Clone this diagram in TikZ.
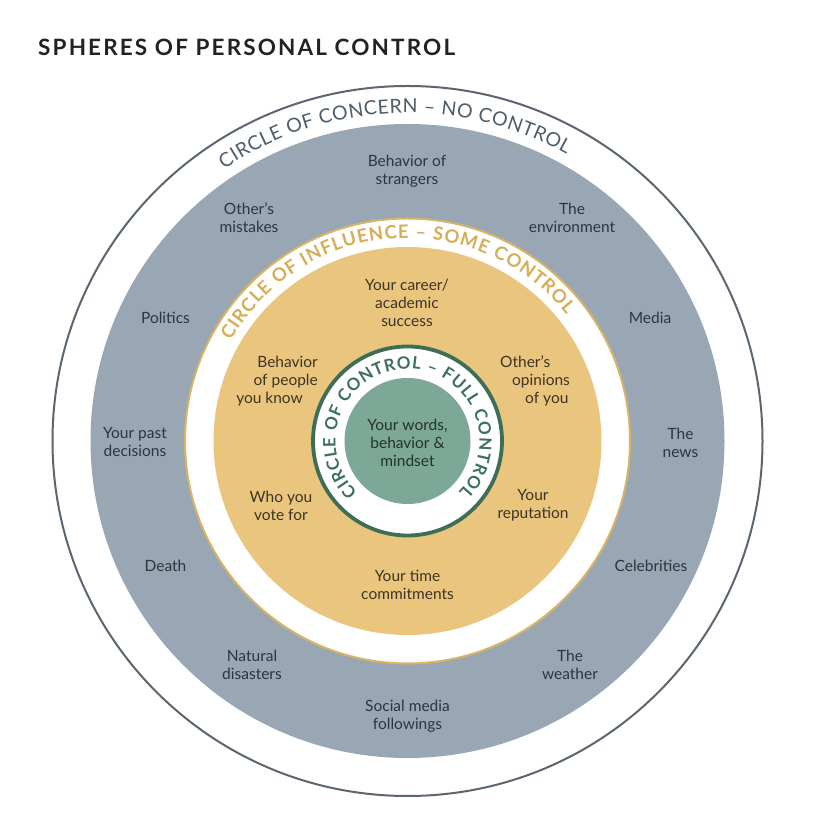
\documentclass[tikz,border=0pt]{standalone}
\usepackage{fontspec}
\setmainfont{Lato}
\usetikzlibrary{decorations.text,calc}
\definecolor{ringline}{HTML}{5B6671}
\definecolor{concern}{HTML}{98A7B3}
\definecolor{goldline}{HTML}{D8B466}
\definecolor{influence}{HTML}{EAC57D}
\definecolor{ctrlline}{HTML}{3F6E57}
\definecolor{ctrlfill}{HTML}{7DA796}
\definecolor{concerntext}{HTML}{4E5D6B}
\definecolor{goldtext}{HTML}{D6AE58}
\definecolor{greentext}{HTML}{3C715C}
\definecolor{bodygray}{HTML}{2C3540}
\definecolor{bodyyellow}{HTML}{3D3425}
\definecolor{bodygreen}{HTML}{22332C}
\definecolor{titlecol}{HTML}{222222}
\begin{document}
\begin{tikzpicture}[x=1pt,y=1pt,
  lbl/.style={align=center, font=\fontsize{15.5}{18}\selectfont, inner sep=0pt},
  graylbl/.style={lbl, text=bodygray},
  yellbl/.style={lbl, text=bodyyellow},
  greenlbl/.style={lbl, text=bodygreen},
  ringtext/.style={decorate, decoration={text along path, text align=fit to path, #1}}]
\useasboundingbox (0,0) rectangle (813,814);
\fill[white] (0,0) rectangle (813,814);
\coordinate (c) at (407.5,373);
% circles
\draw[ringline, line width=2pt] (c) circle[radius=355];
\fill[concern] (c) circle[radius=317];
\filldraw[fill=white, draw=goldline, line width=2pt] (c) circle[radius=222.5];
\fill[influence] (c) circle[radius=194];
\filldraw[fill=white, draw=ctrlline, line width=3.8pt] (c) circle[radius=94.5];
\fill[ctrlfill] (c) circle[radius=63];
% title
\node[anchor=base west, inner sep=0pt, text=titlecol, font=\fontsize{22.5}{22.5}\selectfont\bfseries\addfontfeatures{LetterSpace=9.5}] (title) at (38,758.5) {SPHERES OF PERSONAL CONTROL};
% ring texts
\path[ringtext={text color=concerntext, text={|\fontsize{19.5}{19.5}\selectfont|CIRCLE OF CONCERN – NO CONTROL}}]
  ($(c)+(124:328)$) arc[start angle=124, end angle=61, radius=328];
\path[ringtext={text color=goldtext, text={|\fontsize{18.5}{18.5}\selectfont\bfseries|CIRCLE OF INFLUENCE – SOME CONTROL}}]
  ($(c)+(150.5:203)$) arc[start angle=150.5, end angle=38.5, radius=203];
\path[ringtext={text color=greentext, text={|\fontsize{17}{17}\selectfont\bfseries|CIRCLE OF CONTROL – FULL CONTROL}}]
  ($(c)+(226:72)$) arc[start angle=226, end angle=-45, radius=72];
% circle of concern labels
\node[graylbl] (strangers) at (407,643) {Behavior of\\strangers};
\node[graylbl] (mistakes) at (249,596) {Other’s\\mistakes};
\node[graylbl] (environment) at (572,596) {The\\environment};
\node[graylbl] (politics) at (165.5,496) {Politics};
\node[graylbl] (media) at (650,496) {Media};
\node[graylbl] (past) at (135,371.5) {Your past\\decisions};
\node[graylbl] (news) at (680.5,371.5) {The\\news};
\node[graylbl] (death) at (165.5,248) {Death};
\node[graylbl] (celebs) at (651,248) {Celebrities};
\node[graylbl] (disasters) at (252,149.5) {Natural\\disasters};
\node[graylbl] (weather) at (570,149.5) {The\\weather};
\node[graylbl] (social) at (407.5,98) {Social media\\followings};
% circle of influence labels
\node[yellbl] (career) at (407,511.5) {Your career/\\academic\\success};
\node[yellbl, align=right, anchor=east] (people) at (318,433) {Behavior\\of people\hspace*{8pt}\\you know\hspace*{15pt}};
\node[yellbl, align=left, anchor=west] (opinions) at (500,433) {Other’s\\\hspace*{12pt}opinions\\\hspace*{25pt}of you};
\node[yellbl] (vote) at (281,308.5) {Who you\\vote for};
\node[yellbl] (reputation) at (533,308.5) {Your\\reputation};
\node[yellbl] (time) at (407.5,229) {Your time\\commitments};
% circle of control label
\node[greenlbl] (words) at (407.5,371) {Your words,\\behavior \&\\mindset};
\end{tikzpicture}
\end{document}
